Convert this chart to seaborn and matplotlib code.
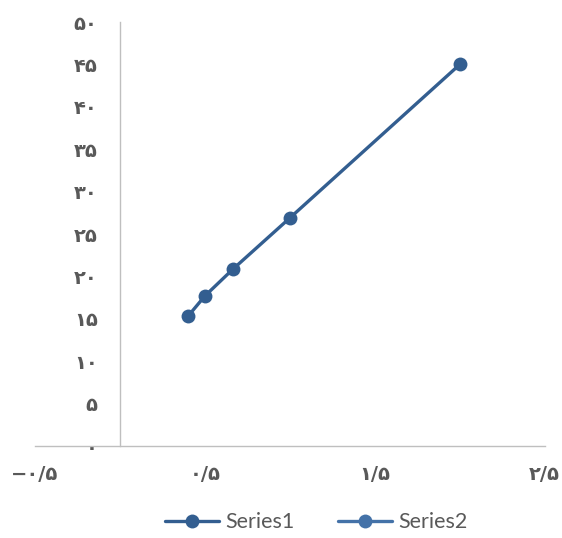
import numpy as np
import pandas as pd
import seaborn as sns
import matplotlib.pyplot as plt
from matplotlib.lines import Line2D

# data
x_vals = [0.4, 0.5, 0.667, 1.0, 2.0]
series1 = [15.3, 17.7, 20.9, 26.9, 45.0]
series_names = ["Series1", "Series2"]

x_ticks = [-0.5, 0.5, 1.5, 2.5]
x_tick_labels = ["−۰/۵", "۰/۵", "۱/۵", "۲/۵"]
y_ticks = [0, 5, 10, 15, 20, 25, 30, 35, 40, 45, 50]
y_tick_labels = ["۰", "۵", "۱۰", "۱۵", "۲۰", "۲۵", "۳۰", "۳۵", "۴۰", "۴۵", "۵۰"]

c1 = "#335E90"
c2 = "#4472A8"
grey_txt = "#595959"
axis_col = "#BFBFBF"

sns.set_theme(style="white")
plt.rcParams["font.family"] = ["DejaVu Sans"]

df = pd.DataFrame({"x": x_vals, "y": series1})

fig = plt.figure(figsize=(5.62, 5.38), dpi=100)
ax = fig.add_axes([0.0623, 0.171, 0.907, 0.788])

sns.lineplot(data=df, x="x", y="y", ax=ax, color=c1, linewidth=2.4,
             marker="o", markersize=10, markeredgewidth=0, sort=False)

ax.set_xlim(-0.5, 2.5)
ax.set_ylim(0, 50)
ax.set_xlabel("")
ax.set_ylabel("")

for s in ["top", "right"]:
    ax.spines[s].set_visible(False)
ax.spines["left"].set_position(("data", 0))
ax.spines["bottom"].set_position(("data", 0))
ax.spines["left"].set_color(axis_col)
ax.spines["bottom"].set_color(axis_col)
ax.spines["left"].set_linewidth(1.0)
ax.spines["bottom"].set_linewidth(1.0)

ax.set_xticks(x_ticks)
ax.set_xticklabels(x_tick_labels)
ax.set_yticks(y_ticks)
ax.set_yticklabels(y_tick_labels)
ax.tick_params(axis="both", length=0, labelsize=14, labelcolor=grey_txt)
ax.tick_params(axis="x", pad=14)
ax.tick_params(axis="y", pad=16)
for t in ax.get_xticklabels() + ax.get_yticklabels():
    t.set_fontweight("bold")

handles = [Line2D([], [], color=c1, lw=2.4, marker="o", markersize=10, markeredgewidth=0),
           Line2D([], [], color=c2, lw=2.4, marker="o", markersize=10, markeredgewidth=0)]
leg = fig.legend(handles, series_names, loc="lower center", ncol=2, frameon=False,
                 bbox_to_anchor=(0.563, -0.025), handlelength=2.5, columnspacing=2.0,
                 handletextpad=0.3, prop={"family": "Lato", "size": 15.5})
for t in leg.get_texts():
    t.set_color(grey_txt)

fig.savefig("out.png", dpi=100)
